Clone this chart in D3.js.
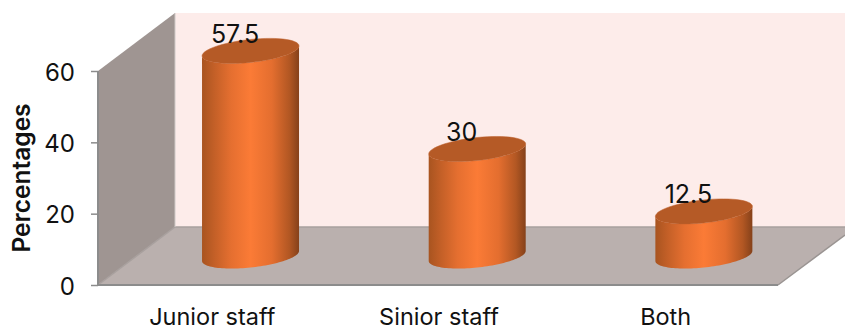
<!DOCTYPE html>
<html>
<head>
<meta charset="utf-8">
<script src="https://cdn.jsdelivr.net/npm/d3@7"></script>
<style>
html,body{margin:0;padding:0;background:#fff;}
svg{display:block;}
text{font-family:Inter,"Open Sans",sans-serif;fill:#111;}
</style>
</head>
<body>
<svg id="chart" width="845" height="331"></svg>
<script>
const categories = ["Junior staff", "Sinior staff", "Both"];
const percentages = [57.5, 30, 12.5];
const yTicks = [0, 20, 40, 60];
const yTitle = "Percentages";

const svg = d3.select("#chart");
const axisX = 98, floorY = 285, plotRightFront = 778;
const depthX = 77, depthY = 58;

const y = d3.scaleLinear().domain([0, 60]).range([floorY, 71]);
const x = d3.scaleBand().domain(categories).range([98, 778]).paddingInner(0).paddingOuter(0);
// cylinder centres sit forward of the wall, shifted by half the floor depth
const cylinderCentre = c => x(c) + x.bandwidth() / 2 + 39.2;
const baseLift = 29;
const rx = 48.5, tiltY = 5, ryY = 11.5;

// horizontal shading for the cylinder side
const defs = svg.append("defs");
const grad = defs.append("linearGradient").attr("id", "side").attr("x1", 0).attr("x2", 1).attr("y1", 0).attr("y2", 0);
[[0, "#a85420"], [0.12, "#c25f27"], [0.3, "#e56f30"], [0.5, "#fb7b36"], [0.72, "#e46e2f"], [0.9, "#b25723"], [1, "#85411a"]]
  .forEach(([o, c]) => grad.append("stop").attr("offset", o).attr("stop-color", c));

// walls and floor
const polygon = d3.line();
svg.append("path").attr("fill", "#fdecea")
  .attr("d", polygon([[axisX + depthX, y(60) - depthY], [845, y(60) - depthY], [845, floorY - depthY], [axisX + depthX, floorY - depthY]]) + "Z");
svg.append("path").attr("fill", "#9f9592")
  .attr("d", polygon([[axisX, y(60)], [axisX + depthX, y(60) - depthY], [axisX + depthX, floorY - depthY], [axisX, floorY]]) + "Z");
svg.append("path").attr("fill", "#bab0ae")
  .attr("d", polygon([[axisX, floorY], [axisX + depthX, floorY - depthY], [845, floorY - depthY], [845, floorY - 50], [plotRightFront, floorY]]) + "Z");

// floor and wall edges
const edge = "#9a9492";
svg.append("path").attr("fill", "none").attr("stroke", "#a8a09e").attr("stroke-width", 1.5)
  .attr("d", polygon([[axisX, floorY], [axisX + depthX, floorY - depthY], [845, floorY - depthY]]));
svg.append("path").attr("fill", "none").attr("stroke", edge).attr("stroke-width", 1.5)
  .attr("d", polygon([[845, floorY - 50], [plotRightFront, floorY]]));
svg.append("path").attr("fill", "none").attr("stroke", "#cfc9c7").attr("stroke-width", 1)
  .attr("d", polygon([[axisX + depthX, y(60) - depthY], [axisX + depthX, floorY - depthY]]));
svg.append("path").attr("fill", "none").attr("stroke", "#8c8c8c").attr("stroke-width", 2)
  .attr("d", polygon([[plotRightFront, floorY], [axisX, floorY], [axisX, y(60)]]));

// y axis ticks and labels
const axis = svg.append("g").attr("transform", `translate(${axisX},0)`)
  .call(d3.axisLeft(y).tickValues(yTicks).tickSize(7).tickPadding(16).tickFormat(d3.format("d")));
axis.select(".domain").remove();
axis.selectAll("line").attr("stroke", "#8c8c8c").attr("stroke-width", 1.5);
axis.selectAll("text").style("font-size", "24px").attr("fill", "#111").attr("dy", "0.38em");

svg.append("text")
  .attr("transform", `translate(30,${178}) rotate(-90)`)
  .attr("text-anchor", "middle")
  .style("font-size", "24.5px").style("font-weight", 600)
  .text(yTitle);

// category labels
svg.selectAll(".cat").data(categories).join("text")
  .attr("class", "cat")
  .attr("x", c => x(c) + x.bandwidth() / 2 + 1)
  .attr("y", 325)
  .attr("text-anchor", "middle")
  .style("font-size", "23.5px")
  .text(c => c);

// cylinders
const data = categories.map((c, i) => ({ c, v: percentages[i] }));
const rim = (cx, cy, from, to) => d3.range(0, 61).map(i => {
  const t = from + (to - from) * i / 60;
  return [cx + rx * Math.cos(t), cy - tiltY * Math.cos(t) + ryY * Math.sin(t)];
});
const base = floorY - baseLift;
const bars = svg.selectAll(".bar").data(data).join("g").attr("class", "bar");
bars.append("path").attr("fill", "url(#side)")
  .attr("d", d => {
    const cx = cylinderCentre(d.c), topY = y(d.v) - baseLift;
    return polygon([...rim(cx, base, 0, Math.PI), ...rim(cx, topY, Math.PI, 0)]) + "Z";
  });
bars.append("path").attr("fill", "#b55a26").attr("stroke", "#bd5f2a").attr("stroke-width", 0.5)
  .attr("d", d => {
    const cx = cylinderCentre(d.c), topY = y(d.v) - baseLift;
    return polygon(rim(cx, topY, 0, 2 * Math.PI)) + "Z";
  });

// value labels
svg.selectAll(".val").data(data).join("text")
  .attr("class", "val")
  .attr("x", d => cylinderCentre(d.c) - 15.5)
  .attr("y", d => y(d.v) - baseLift - 8)
  .attr("text-anchor", "middle")
  .style("font-size", "25px")
  .text(d => d.v);
</script>
</body>
</html>
